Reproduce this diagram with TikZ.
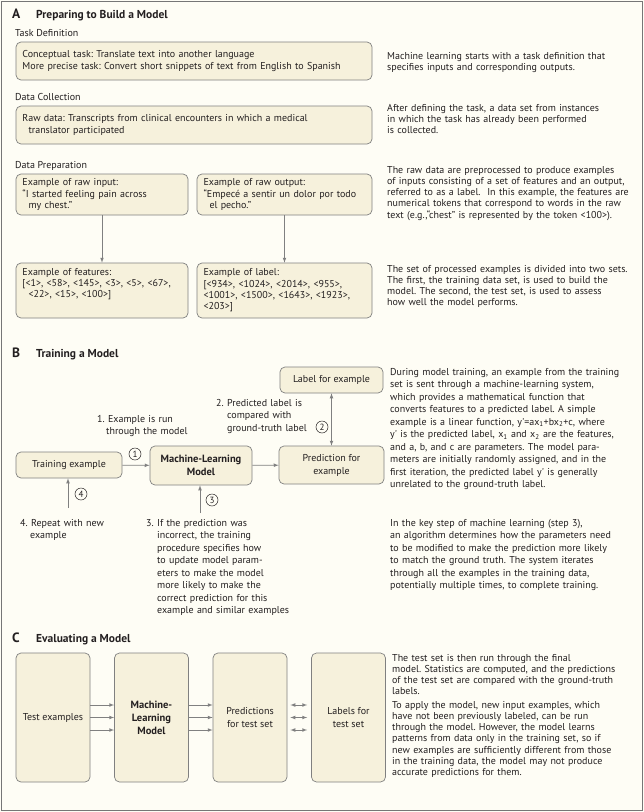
\documentclass[tikz,border=0pt]{standalone}
\usepackage{fontspec}
\setmainfont{PT Sans}
\usetikzlibrary{calc}
\frenchspacing

\definecolor{pagebg}{RGB}{254,253,245}
\definecolor{boxfill}{RGB}{246,241,220}
\definecolor{boxline}{RGB}{128,128,128}
\definecolor{frameline}{RGB}{118,118,118}
\definecolor{ink}{RGB}{35,31,32}

\newcommand{\nejm}{\fontsize{10}{11.3}\selectfont}
\newcommand{\nejmB}{\fontsize{10}{12.5}\selectfont}
\newcommand{\nejmC}{\fontsize{10}{13}\selectfont}

\begin{document}
\begin{tikzpicture}[x=1pt,y=-1pt,
   box/.style={rectangle,rounded corners=5pt,draw=boxline,fill=boxfill,
    line width=0.7pt,font=\nejm,text=ink,inner xsep=+6.5pt,inner ysep=+2pt},
   lbox/.style={box,align=left},
   cbox/.style={box,align=center,font=\nejmC,inner xsep=+2pt},
   txt/.style={inner sep=+0pt,align=left,font=\nejm,text=ink,anchor=base west},
   head/.style={inner sep=+0pt,anchor=base west,text=ink,
    font=\fontsize{11.5}{13}\selectfont\bfseries},
   letter/.style={head,font=\fontsize{13.5}{14}\selectfont\bfseries},
   arr/.style={draw=boxline,line width=0.7pt,-latex},
   num/.style={circle,draw=ink,line width=0.5pt,inner sep=+0pt,
    minimum size=12pt,text=ink,font=\fontsize{9}{9}\selectfont}
    ]
  \useasboundingbox (0,0) rectangle (644,812);
  \fill[pagebg] (0,0) rectangle (644,812);
  \draw[frameline,line width=1.2pt] (1.2,1.2) rectangle (642.3,810.8);

  % -- A: preparing
  \node[letter] at (12,18.5) (la) {A};
  \node[head] at (36,18) (ta) {Preparing to Build a Model};
  \node[txt] at (15,36) (ha1) {Task Definition};
  \node[lbox,text width=343pt,minimum height=38pt] at (194,61) (tdef)
    {Conceptual task: Translate text into another language\\
     More precise task: Convert short snippets of text from English to Spanish};
  \node[txt] at (15,100) (ha2) {Data Collection};
  \node[lbox,text width=343pt,minimum height=38pt] at (194,125) (dcol)
    {Raw data: Transcripts from clinical encounters in which a medical\\
     \hspace*{6pt}translator participated};
  \node[txt] at (15,168) (ha3) {Data Preparation};
  \node[lbox,text width=159pt,minimum height=41pt] at (102,194.5) (rawin)
    {Example of raw input:\\
     “I started feeling pain across\\
     \hspace*{6pt}my chest.”};
  \node[lbox,text width=162pt,minimum height=41pt] at (284.5,194.5) (rawout)
    {Example of raw output:\\
     “Empecé a sentir un dolor por todo\\
     \hspace*{6pt}el pecho.”};
  \node[lbox,text width=159pt,minimum height=55pt] at (102,290.5) (feat)
    {Example of features:\\
     {[}<1>, <58>, <145>, <3>, <5>, <67>,\\
     \hspace*{6pt}<22>, <15>, <100>]\\
     \strut};
  \node[lbox,text width=162pt,minimum height=55pt] at (284.5,290.5) (lbl)
    {Example of label:\\
     {[}<934>, <1024>, <2014>, <955>,\\
     <1001>, <1500>, <1643>, <1923>,\\
     <203>]};
  \draw[arr] (rawin) -- (feat);
  \draw[arr] (rawout) -- (lbl);

  \node[txt,text width=262pt] at (387,59) (ra1)
    {Machine learning starts with a task definition that\\
     specifies inputs and corresponding outputs.};
  \node[txt,text width=262pt] at (387,111) (ra2)
    {After defining the task, a data set from instances\\
     in which the task has already been performed\\
     is collected.};
  \node[txt,text width=262pt] at (387,173) (ra3)
    {The raw data are preprocessed to produce examples\\
     of inputs consisting of a set of features and an output,\\
     referred to as a label.\ \ In this example, the features are\\
     numerical tokens that correspond to words in the raw\\
     text (e.g.,“chest” is represented by the token <100>).};
  \node[txt,text width=262pt] at (387,272) (ra4)
    {The set of processed examples is divided into two sets.\\
     The first, the training data set, is used to build the\\
     model. The second, the test set, is used to assess\\
     how well the model performs.};

  % -- B: training
  \node[letter] at (12,357.5) (lb) {B};
  \node[head] at (36,357) (tb) {Training a Model};
  \node[cbox,minimum width=103pt,minimum height=26pt] at (331.5,380) (lblex)
    {Label for example};
  \node[cbox,minimum width=105pt,minimum height=38pt] at (331.5,465) (pred)
    {Prediction for\\example};
  \node[cbox,minimum width=102pt,minimum height=39pt,
    font=\fontsize{10.5}{13}\selectfont\bfseries] at (201,465.5) (mlm)
    {Machine-Learning\\Model};
  \node[cbox,minimum width=106pt,minimum height=26pt] at (69,465) (train)
    {Training example};
  \draw[arr] (train) -- (mlm);
  \draw[arr] (mlm) -- (pred);
  \draw[arr,latex-latex] (lblex) -- (pred);
  \coordinate (s4) at (68,508);
  \coordinate (s3) at (200,513);
  \draw[arr] (s4) -- (s4 |- train.south);
  \draw[arr] (s3) -- (s3 |- mlm.south);

  \node[num] at (135,454) (n1) {1};
  \node[num] at (322,427) (n2) {2};
  \node[num] at (212,500) (n3) {3};
  \node[num] at (81,494) (n4) {4};

  \node[txt,font=\nejmB,text width=110pt] at (97,422) (st1)
    {1. Example is run\\
     \hspace*{9pt}through the model};
  \node[txt,font=\nejmB,text width=110pt] at (216,406) (st2)
    {2. Predicted label is\\
     \hspace*{11pt}compared with\\
     \hspace*{11pt}ground-truth label};
  \node[txt,font=\nejmB,text width=110pt] at (20,526) (st4)
    {4. Repeat with new\\
     \hspace*{10pt}example};
  \node[txt,font=\nejmB,text width=160pt] at (146,526) (st3)
    {3. If the prediction was\\
     \hspace*{11pt}incorrect, the training\\
     \hspace*{11pt}procedure specifies how\\
     \hspace*{11pt}to update model param-\\
     \hspace*{11pt}eters to make the model\\
     \hspace*{11pt}more likely to make the\\
     \hspace*{11pt}correct prediction for this\\
     \hspace*{11pt}example and similar examples};

  \node[txt,font=\nejmB,text width=252pt] at (390,375) (rb1)
    {During model training, an example from the training\\
     set is sent through a machine-learning system,\\
     which provides a mathematical function that\\
     converts features to a predicted label. A simple\\
     example is a linear function, y\textquotesingle=ax\textsubscript{1}+bx\textsubscript{2}+c, where\\
     y\textquotesingle{} is the predicted label, x\textsubscript{1} and x\textsubscript{2} are the features,\\
     and a, b, and c are parameters. The model para-\\
     meters are initially randomly assigned, and in the\\
     first iteration, the predicted label y\textquotesingle{} is generally\\
     unrelated to the ground-truth label.};
  \node[txt,font=\nejmB,text width=252pt] at (390,526) (rb2)
    {In the key step of machine learning (step 3),\\
     an algorithm determines how the parameters need\\
     to be modified to make the prediction more likely\\
     to match the ground truth. The system iterates\\
     through all the examples in the training data,\\
     potentially multiple times, to complete training.};

  % -- C: evaluating
  \node[letter] at (12,642.5) (lc) {C};
  \node[head] at (36,642) (tc) {Evaluating a Model};
  \node[cbox,minimum width=74pt,minimum height=129pt] at (53,717.5) (test)
    {Test examples};
  \node[cbox,minimum width=74pt,minimum height=129pt,
    font=\fontsize{10.5}{13}\selectfont\bfseries] at (151.5,717.5) (mlc)
    {Machine-\\Learning\\Model};
  \node[cbox,minimum width=74pt,minimum height=129pt] at (250,717.5) (predc)
    {Predictions\\for test set};
  \node[cbox,minimum width=74pt,minimum height=129pt] at (348.5,717.5) (lblc)
    {Labels for\\test set};
  \foreach \dy in {-12.5,0,12.5} {
    \draw[arr] ($(test.east)+(0,\dy)$) -- ($(mlc.west)+(0,\dy)$);
    \draw[arr] ($(mlc.east)+(0,\dy)$) -- ($(predc.west)+(0,\dy)$);
    \draw[arr,latex-latex] ($(predc.east)+(3,\dy)$) -- ($(lblc.west)+(-4,\dy)$);
  }

  \node[txt,text width=250pt] at (392,661) (rc)
    {The test set is then run through the final\\
     model. Statistics are computed, and the predictions\\
     of the test set are compared with the ground-truth\\
     labels.\\[1.8pt]
     To apply the model, new input examples, which\\
     have not been previously labeled, can be run\\
     through the model. However, the model learns\\
     patterns from data only in the training set, so if\\
     new examples are sufficiently different from those\\
     in the training data, the model may not produce\\
     accurate predictions for them.};

\end{tikzpicture}
\end{document}
